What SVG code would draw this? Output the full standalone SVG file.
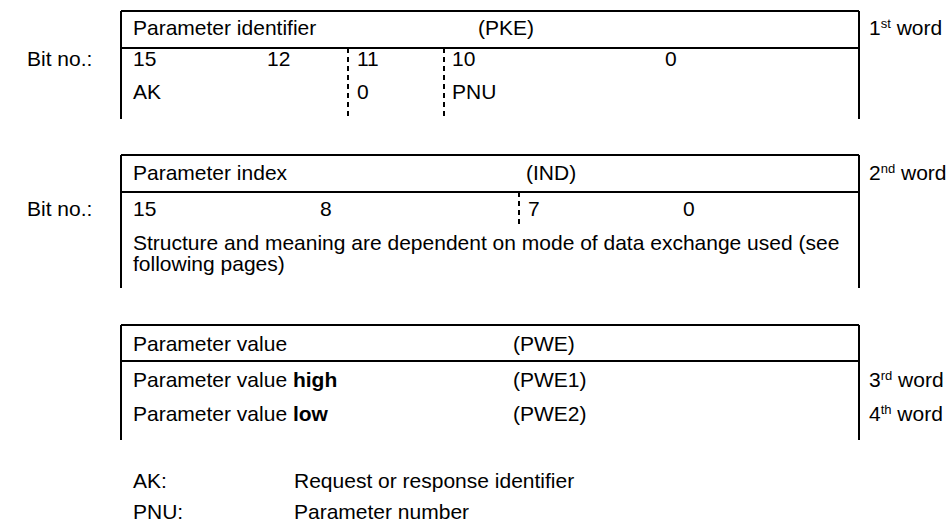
<svg xmlns="http://www.w3.org/2000/svg" width="948" height="529" viewBox="0 0 948 529">
<style>
text{font-family:"Liberation Sans",Arial,sans-serif;font-size:21px;fill:#000}
.b{font-weight:bold}
.sup{font-size:13px}
.ln{stroke:#000;stroke-width:2;fill:none}
.ds{stroke:#000;stroke-width:2;stroke-dasharray:5 4;fill:none}
</style>
<rect width="948" height="529" fill="#fff"/>
<g id="connectors">
<path class="ln" d="M121 11H859M121 48H859M121 11V119M859 11V119"/>
<path class="ds" d="M348 48V119M444 48V119"/>
<path class="ln" d="M121 155H859M121 192H859M121 155V288M859 155V288"/>
<path class="ds" d="M519 192V228"/>
<path class="ln" d="M121 325H859M121 361H860M121 325V440M859 325V440"/>
</g>
<g id="pke">
<text x="133" y="35">Parameter identifier</text>
<text x="478" y="35">(PKE)</text>
<text x="869" y="35">1<tspan class="sup" dy="-7">st</tspan><tspan dy="7"> word</tspan></text>
<text x="27" y="66">Bit no.:</text>
<text x="133" y="66">15</text>
<text x="267" y="66">12</text>
<text x="357" y="66">11</text>
<text x="452" y="66">10</text>
<text x="665" y="66">0</text>
<text x="133" y="99">AK</text>
<text x="357" y="99">0</text>
<text x="452" y="99">PNU</text>
</g>
<g id="ind">
<text x="133" y="180">Parameter index</text>
<text x="526" y="180">(IND)</text>
<text x="869" y="180">2<tspan class="sup" dy="-7">nd</tspan><tspan dy="7"> word</tspan></text>
<text x="27" y="216">Bit no.:</text>
<text x="133" y="216">15</text>
<text x="320" y="216">8</text>
<text x="528" y="216">7</text>
<text x="683" y="216">0</text>
<text x="133" y="250">Structure and meaning are dependent on mode of data exchange used (see</text>
<text x="133" y="271">following pages)</text>
</g>
<g id="pwe">
<text x="133" y="351">Parameter value</text>
<text x="513" y="351">(PWE)</text>
<text x="133" y="387">Parameter value <tspan class="b">high</tspan></text>
<text x="513" y="387">(PWE1)</text>
<text x="869" y="387">3<tspan class="sup" dy="-7">rd</tspan><tspan dy="7"> word</tspan></text>
<text x="133" y="421">Parameter value <tspan class="b">low</tspan></text>
<text x="513" y="421">(PWE2)</text>
<text x="869" y="421">4<tspan class="sup" dy="-7">th</tspan><tspan dy="7"> word</tspan></text>
</g>
<g id="legend">
<text x="133" y="488">AK:</text>
<text x="294" y="488">Request or response identifier</text>
<text x="133" y="519">PNU:</text>
<text x="294" y="519">Parameter number</text>
</g>
</svg>
